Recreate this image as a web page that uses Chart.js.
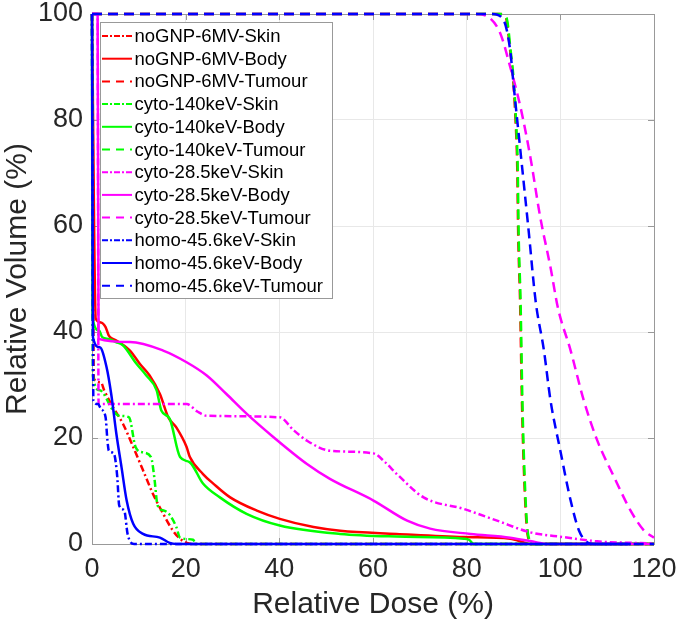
<!DOCTYPE html>
<html>
<head>
<meta charset="utf-8">
<title>DVH</title>
<script src="https://cdn.jsdelivr.net/npm/chart.js@4"></script>
<style>
    body { margin: 0; background: #fff; }
    #wrap { width: 681px; height: 626px; }
</style>
</head>
<body>
<div id="wrap"><canvas id="dvh" width="681" height="626"></canvas></div>
<script>
// Tick labels
const xTicks = [0, 20, 40, 60, 80, 100, 120];
const yTicks = [0, 20, 40, 60, 80, 100];

// Legend labels, in plot order
const labels = [
    'noGNP-6MV-Skin', 'noGNP-6MV-Body', 'noGNP-6MV-Tumour',
    'cyto-140keV-Skin', 'cyto-140keV-Body', 'cyto-140keV-Tumour',
    'cyto-28.5keV-Skin', 'cyto-28.5keV-Body', 'cyto-28.5keV-Tumour',
    'homo-45.6keV-Skin', 'homo-45.6keV-Body', 'homo-45.6keV-Tumour'
];

// Curves: [dose %, volume %]
const noGnpSkin = [[0,100],[0.4,31.2],[1.9,30.5],[2.6,29],[4.5,25.8],[6.6,22.7],[8.8,18.3],[10.9,13.9],[13,9.5],[15.2,5.7],[17.3,2.5],[18.8,1],[20.2,0.2],[22,0],[120,0]];
const noGnpBody = [[0,100],[0.8,42.5],[1.9,41.8],[2.9,40.9],[3.6,39.3],[4.4,38.7],[5.2,38.4],[8.1,36.5],[10.2,34],[12.3,31.8],[14.5,28.3],[16.3,23.9],[18,22],[20.2,18.3],[20.9,16.4],[23.7,13.2],[25.9,11.4],[29.5,8.8],[35.2,6.3],[40.1,4.75],[47.3,3.2],[53,2.5],[65,1.9],[79.4,1.3],[89.3,1.0],[92.2,0.3],[93.5,0],[120,0]];
const noGnpTumour = [[0,100],[87,100],[88.3,99.5],[89.3,93],[90,86.8],[90.4,80.5],[90.8,71],[91,58.5],[91.4,46],[91.8,27],[92.2,14.5],[92.9,2.5],[93.6,0.5],[95,0],[120,0]];

const cyto140Skin = [[0,100],[0.2,31.7],[1.65,29],[4.5,25.2],[5.8,24.2],[7.9,23.9],[9.3,18.3],[10.8,17.3],[12.6,16.4],[13.3,12.6],[14,7.3],[15.4,6.3],[16.6,5.5],[18,3.2],[18.8,1.2],[21.6,0.8],[22.2,0],[120,0]];
const cyto140Body = [[0,100],[0.1,42.8],[1.5,40.3],[2.2,39],[3.6,38.7],[5.1,38.1],[6.6,37.5],[9.5,34],[11.6,31.8],[13.8,29],[14.8,25.2],[16.6,23.6],[18.8,16.4],[20.9,15.4],[23.7,11.4],[27.3,8.8],[33,5.7],[40.1,3.5],[53,1.9],[65,1.4],[79.4,1.0],[80.5,0.8],[81.5,0],[120,0]];
const cyto140Tumour = [[0,100],[87.3,100],[88.5,99.3],[89.4,93],[90.1,86.8],[90.5,80.5],[90.9,71],[91.1,58.5],[91.5,46],[91.9,27],[92.3,14.5],[93,2.5],[93.8,0.5],[95,0],[120,0]];

const cyto28Skin = [[0,100],[1.2,100],[1.4,26.4],[20.2,26.4],[22.5,25],[24.5,24.2],[40.1,23.9],[43,21.5],[45.9,19.5],[50.8,17.6],[60.1,17.1],[62.5,15.5],[65.1,13.2],[70.8,8.8],[79.4,6.6],[86.5,4.4],[93.6,2.2],[100.7,1.3],[107.9,0.5],[120,0.1]];
const cyto28Body = [[0,100],[1.2,100],[1.4,38.7],[8.1,38.1],[15.2,36.5],[20.2,34.3],[24.5,31.8],[28.7,28.3],[33,24.6],[38.7,20.2],[45.9,15.1],[50.8,12.3],[60.1,8.2],[67.3,4.4],[72.2,2.9],[80.8,1.9],[89.3,1.2],[95,0.3],[97,0],[120,0]];
const cyto28Tumour = [[0,100],[82,100],[85.1,99.1],[87.2,96.3],[89.3,90],[91.5,82.4],[93.6,73],[95.7,61.7],[97.9,52.2],[99.5,44.5],[102.2,36.5],[105,27.1],[107.9,19.5],[111.5,12.6],[115,6.3],[117.9,2.5],[120,1.2]];

const homoSkin = [[0,100],[0.3,27],[1.3,26.4],[1.9,25.5],[2.9,23.9],[3.3,19.5],[3.6,17.6],[4.7,17],[5.4,12.6],[5.8,7.3],[6.9,6.3],[7.6,1.9],[9,0],[115,0]];
const homoBody = [[0,100],[0.2,39],[1.65,37.1],[3.1,33.4],[4.1,28.3],[5.2,20.8],[6.3,14.5],[7.4,8.2],[8.8,3.8],[10.9,1.9],[14.5,1.2],[16.6,0.2],[18,0],[115,0]];
const homoTumour = [[0,100],[85.5,100],[87.9,98.8],[89.3,93.1],[90,86.8],[91.1,77.4],[92.2,68],[93.3,58.5],[94.7,46],[96.5,36.5],[97.9,27.1],[100,17.6],[102.2,8.2],[104,2.5],[105.8,0.3],[107,0],[120,0]];

const curves = [
    noGnpSkin, noGnpBody, noGnpTumour,
    cyto140Skin, cyto140Body, cyto140Tumour,
    cyto28Skin, cyto28Body, cyto28Tumour,
    homoSkin, homoBody, homoTumour
];

const colors = ['#ff0000', '#00ff00', '#ff00ff', '#0000ff'];
const dashes = [[7, 3, 2, 3], [], [10, 6]];   // skin, body, tumour
const legendDashes = [[6, 2, 2, 2], [], [8, 6]];

const FONT = "'Liberation Sans', Arial, Helvetica, sans-serif";
const axisColor = '#999999';
const textColor = '#262626';

const datasets = curves.map((pts, i) => ({
    label: labels[i],
    data: pts.map(p => ({ x: p[0], y: p[1] })),
    borderColor: colors[Math.floor(i / 3)],
    borderDash: dashes[i % 3],
    borderWidth: 2.5,
    pointRadius: 0,
    fill: false,
    cubicInterpolationMode: 'monotone',
    clip: 4,
    order: 12 - i
}));

// Box around the plot with inward ticks (drawn under the curves)
const boxPlugin = {
    id: 'box',
    beforeDatasetsDraw(chart) {
        const { ctx, chartArea: a, scales } = chart;
        ctx.save();
        ctx.strokeStyle = axisColor;
        ctx.lineWidth = 1;
        ctx.strokeRect(a.left + 0.5, a.top + 0.5, a.right - a.left, a.bottom - a.top);
        ctx.beginPath();
        xTicks.forEach(v => {
            const px = Math.round(scales.x.getPixelForValue(v)) + 0.5;
            ctx.moveTo(px, a.bottom); ctx.lineTo(px, a.bottom - 6);
            ctx.moveTo(px, a.top); ctx.lineTo(px, a.top + 6);
        });
        yTicks.forEach(v => {
            const py = Math.round(scales.y.getPixelForValue(v)) + 0.5;
            ctx.moveTo(a.left, py); ctx.lineTo(a.left + 6, py);
            ctx.moveTo(a.right, py); ctx.lineTo(a.right - 6, py);
        });
        ctx.stroke();
        ctx.restore();
    }
};

// MATLAB-style legend inside the axes, top left
const legendPlugin = {
    id: 'boxLegend',
    afterDraw(chart) {
        const { ctx } = chart;
        const x0 = 100, y0 = 22, w = 232, h = 276;
        ctx.save();
        ctx.fillStyle = '#ffffff';
        ctx.fillRect(x0, y0, w, h);
        ctx.strokeStyle = axisColor;
        ctx.lineWidth = 1;
        ctx.strokeRect(x0 + 0.5, y0 + 0.5, w, h);
        ctx.font = '18.5px ' + FONT;
        ctx.textBaseline = 'middle';
        ctx.textAlign = 'left';
        chart.data.datasets.forEach((ds, i) => {
            const y = 36 + i * 22.7;
            ctx.beginPath();
            ctx.strokeStyle = ds.borderColor;
            ctx.lineWidth = 2;
            ctx.setLineDash(legendDashes[i % 3]);
            ctx.moveTo(102, y); ctx.lineTo(132, y);
            ctx.stroke();
            ctx.setLineDash([]);
            ctx.fillStyle = '#000000';
            ctx.fillText(ds.label, 134.5, y + 1);
        });
        ctx.restore();
    }
};

new Chart(document.getElementById('dvh'), {
    type: 'line',
    data: { datasets },
    options: {
        responsive: false,
        animation: false,
        layout: { padding: { top: 14, right: 27, left: 0, bottom: 0 } },
        plugins: { legend: { display: false }, tooltip: { enabled: false } },
        scales: {
            x: {
                type: 'linear', min: 0, max: 120,
                afterBuildTicks: s => { s.ticks = xTicks.map(v => ({ value: v })); },
                afterFit: s => { s.height = 82; s.paddingLeft = 0; s.paddingRight = 0; },
                ticks: { color: textColor, padding: 9, font: { family: FONT, size: 27 }, maxRotation: 0 },
                grid: { color: '#e8e8e8', drawTicks: false },
                border: { display: false },
                title: { display: true, text: 'Relative Dose (%)', color: textColor,
                         font: { family: FONT, size: 30 }, padding: { top: 0, bottom: 3 } }
            },
            y: {
                type: 'linear', min: 0, max: 100,
                afterBuildTicks: s => { s.ticks = yTicks.map(v => ({ value: v })); },
                afterFit: s => { s.width = 92; s.paddingTop = 0; s.paddingBottom = 0; },
                ticks: { color: textColor, padding: 9, font: { family: FONT, size: 27 } },
                grid: { color: '#e8e8e8', drawTicks: false },
                border: { display: false },
                title: { display: true, text: 'Relative Volume (%)', color: textColor,
                         font: { family: FONT, size: 30 }, padding: { top: 0, bottom: 0 } }
            }
        }
    },
    plugins: [boxPlugin, legendPlugin]
});
</script>
</body>
</html>
